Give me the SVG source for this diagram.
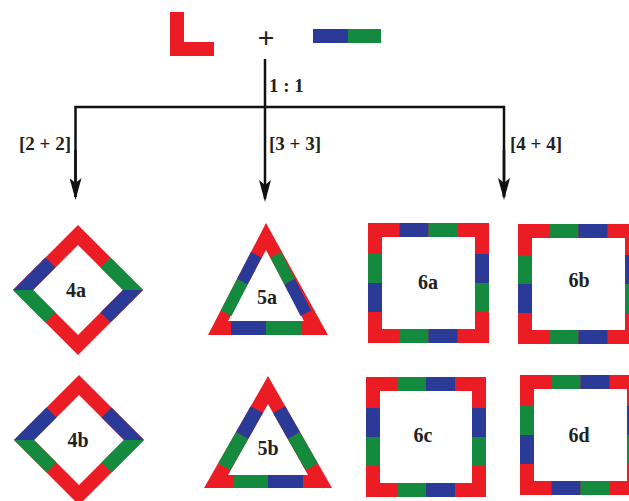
<svg xmlns="http://www.w3.org/2000/svg" width="629" height="501" viewBox="0 0 629 501">
<style>
.r{fill:#ec1c24}
.b{fill:#2b3a97}
.g{fill:#138a3e}
.band{fill:#ec1c24;fill-rule:evenodd}
.t{font-family:"Liberation Serif","Times New Roman",serif;font-weight:bold;fill:#222}
.lbl{font-size:20px;text-anchor:middle}
.edge{font-size:19px}
.ln{stroke:#111;stroke-width:2.5;fill:none}
</style>
<defs>
<marker id="ah" viewBox="0 0 22 12" markerWidth="22" markerHeight="12" refX="19" refY="6" orient="auto" markerUnits="userSpaceOnUse">
<path d="M0,0 L22,6 L0,12 L5,6 Z" fill="#111"/>
</marker>
</defs>
<rect width="629" height="501" fill="#fff"/>

<g id="reactants">
<path class="r" d="M170,12 H184 V42 H214 V56 H170 Z"/>
<text class="t" x="266" y="48" font-size="30" font-weight="normal" text-anchor="middle">+</text>
<rect class="b" x="313" y="29" width="35" height="14"/>
<rect class="g" x="348" y="29" width="33" height="14"/>
</g>

<g id="connectors">
<line class="ln" x1="265" y1="59" x2="265" y2="199" marker-end="url(#ah)"/>
<polyline class="ln" points="75.5,197 75.5,107 504,107 504,197"/>
<line class="ln" x1="75.5" y1="150" x2="75.5" y2="197" marker-end="url(#ah)"/>
<line class="ln" x1="504" y1="150" x2="504" y2="197" marker-end="url(#ah)"/>
<text class="t edge" x="269" y="92">1 : 1</text>
<text class="t edge" x="71" y="150" text-anchor="end">[2 + 2]</text>
<text class="t edge" x="269" y="150">[3 + 3]</text>
<text class="t edge" x="510" y="150">[4 + 4]</text>
</g>

<g id="n4a" transform="translate(78,290)">
<path class="band" d="M0,-65 L65,0 L0,65 L-65,0 Z M0,-45 L45,0 L0,45 L-45,0 Z"/>
<polygon class="b" points="-65,0 -32.5,-32.5 -22.5,-22.5 -45,0"/>
<polygon class="g" points="32.5,-32.5 65,0 45,0 22.5,-22.5"/>
<polygon class="b" points="65,0 32.5,32.5 22.5,22.5 45,0"/>
<polygon class="g" points="-65,0 -32.5,32.5 -22.5,22.5 -45,0"/>
<text class="t lbl" x="-2" y="7">4a</text>
</g>

<g id="n4b" transform="translate(79,440)">
<path class="band" d="M0,-65 L65,0 L0,65 L-65,0 Z M0,-45 L45,0 L0,45 L-45,0 Z"/>
<polygon class="b" points="-65,0 -32.5,-32.5 -22.5,-22.5 -45,0"/>
<polygon class="b" points="32.5,-32.5 65,0 45,0 22.5,-22.5"/>
<polygon class="g" points="65,0 32.5,32.5 22.5,22.5 45,0"/>
<polygon class="g" points="-65,0 -32.5,32.5 -22.5,22.5 -45,0"/>
<text class="t lbl" x="-1" y="7">4b</text>
</g>

<g id="n5a">
<path class="band" d="M266,223 L328,335 L208,335 Z M266,250 L228,321 L304,321 Z"/>
<polygon class="b" points="250.9,252.1 237,279 247.7,284.5 261.6,257.6"/>
<polygon class="g" points="237,279 220.8,310.4 231.5,315.9 247.7,284.5"/>
<polygon class="g" points="281.1,252.1 295,279 284.3,284.5 270.4,257.6"/>
<polygon class="b" points="295,279 311.2,310.4 300.5,315.9 284.3,284.5"/>
<rect class="b" x="231" y="321" width="35" height="14"/>
<rect class="g" x="266" y="321" width="35" height="14"/>
<text class="t lbl" x="267" y="304">5a</text>
</g>

<g id="n5b">
<path class="band" d="M268,376 L332,488 L204,488 Z M268,404 L228,475 L308,475 Z"/>
<polygon class="b" points="250.7,406.2 236,432 248.2,438.9 262.9,413.1"/>
<polygon class="g" points="236,432 218.1,463.4 230.3,470.3 248.2,438.9"/>
<polygon class="b" points="285.3,406.2 300,432 287.8,438.9 273.1,413.1"/>
<polygon class="g" points="300,432 317.9,463.4 305.7,470.3 287.8,438.9"/>
<rect class="g" x="233" y="475" width="35" height="13"/>
<rect class="b" x="268" y="475" width="35" height="13"/>
<text class="t lbl" x="268" y="455">5b</text>
</g>

<g id="n6a" transform="translate(368,223)">
<path class="band" d="M0,0 H121 V120 H0 Z M14,14 V106 H107 V14 Z"/>
<rect class="b" x="31.5" y="0" width="29" height="14"/>
<rect class="g" x="60.5" y="0" width="29" height="14"/>
<rect class="g" x="31.5" y="106" width="29" height="14"/>
<rect class="b" x="60.5" y="106" width="29" height="14"/>
<rect class="g" x="0" y="31" width="14" height="29"/>
<rect class="b" x="0" y="60" width="14" height="29"/>
<rect class="b" x="107" y="31" width="14" height="29"/>
<rect class="g" x="107" y="60" width="14" height="29"/>
<text class="t lbl" x="60" y="66">6a</text>
</g>

<g id="n6b" transform="translate(518,224)">
<path class="band" d="M0,0 H121 V120 H0 Z M14,14 V106 H107 V14 Z"/>
<rect class="g" x="31.5" y="0" width="29" height="14"/>
<rect class="b" x="60.5" y="0" width="29" height="14"/>
<rect class="g" x="31.5" y="106" width="29" height="14"/>
<rect class="b" x="60.5" y="106" width="29" height="14"/>
<rect class="g" x="0" y="31" width="14" height="29"/>
<rect class="b" x="0" y="60" width="14" height="29"/>
<rect class="b" x="107" y="31" width="14" height="29"/>
<rect class="g" x="107" y="60" width="14" height="29"/>
<text class="t lbl" x="61" y="63">6b</text>
</g>

<g id="n6c" transform="translate(366,377)">
<path class="band" d="M0,0 H120 V120 H0 Z M14,14 V106 H106 V14 Z"/>
<rect class="g" x="31" y="0" width="29" height="14"/>
<rect class="b" x="60" y="0" width="29" height="14"/>
<rect class="g" x="31" y="106" width="29" height="14"/>
<rect class="b" x="60" y="106" width="29" height="14"/>
<rect class="b" x="0" y="31" width="14" height="29"/>
<rect class="g" x="0" y="60" width="14" height="29"/>
<rect class="b" x="106" y="31" width="14" height="29"/>
<rect class="g" x="106" y="60" width="14" height="29"/>
<text class="t lbl" x="57" y="65">6c</text>
</g>

<g id="n6d" transform="translate(520,375)">
<path class="band" d="M0,0 H121 V120 H0 Z M14,14 V106 H107 V14 Z"/>
<rect class="g" x="31.5" y="0" width="29" height="14"/>
<rect class="b" x="60.5" y="0" width="29" height="14"/>
<rect class="b" x="31.5" y="106" width="29" height="14"/>
<rect class="g" x="60.5" y="106" width="29" height="14"/>
<rect class="g" x="0" y="31" width="14" height="29"/>
<rect class="b" x="0" y="60" width="14" height="29"/>
<rect class="b" x="107" y="31" width="14" height="29"/>
<rect class="g" x="107" y="60" width="14" height="29"/>
<text class="t lbl" x="59" y="67">6d</text>
</g>
</svg>
